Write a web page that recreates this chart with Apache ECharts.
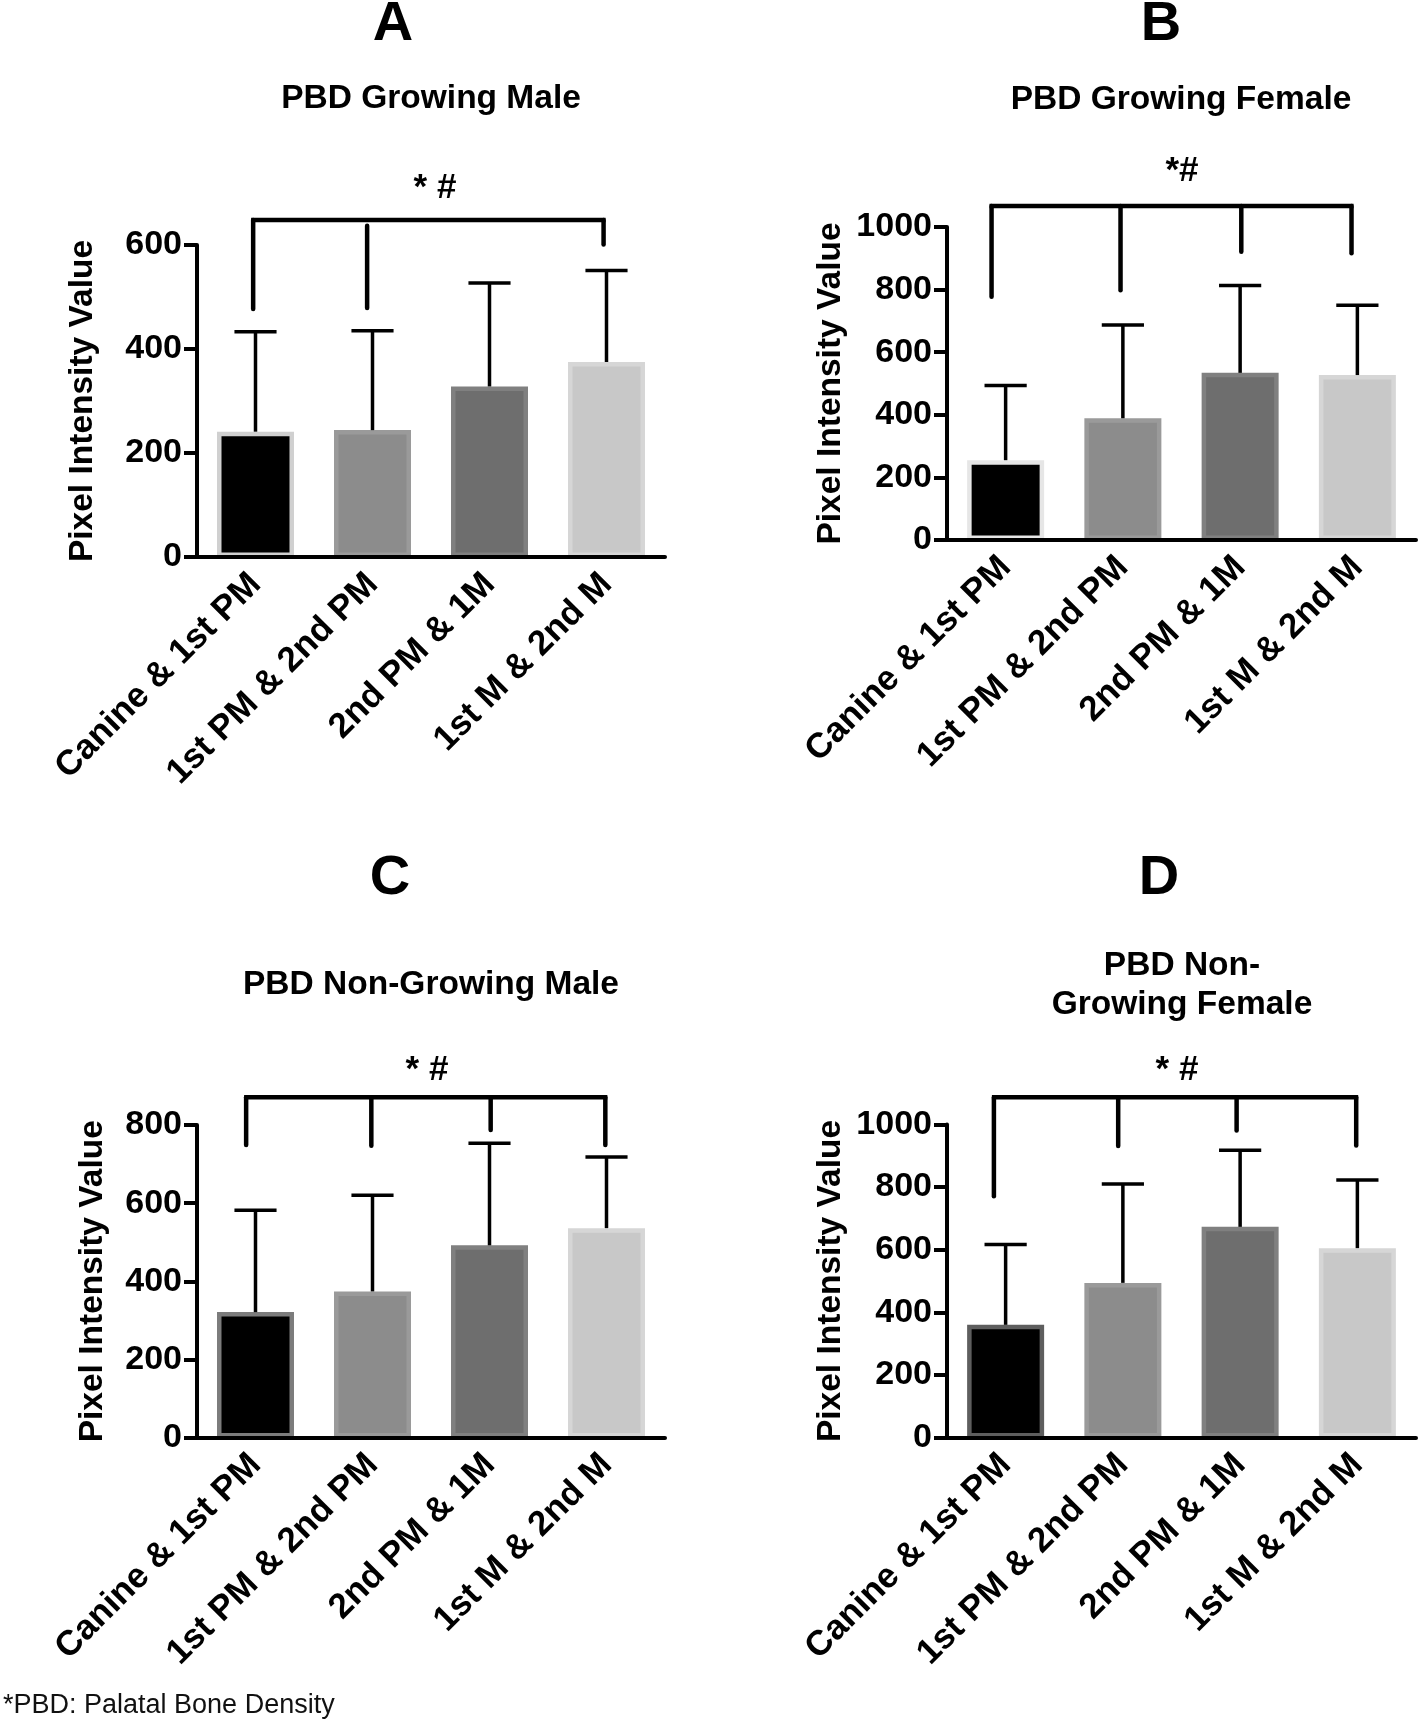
<!DOCTYPE html>
<html><head><meta charset="utf-8">
<script src="https://cdn.jsdelivr.net/npm/echarts@6/dist/echarts.min.js"></script>
<style>html,body{margin:0;padding:0;background:#fff}#c{width:1418px;height:1726px}</style>
</head><body><div id="c"></div>
<script>
// ---------- data ----------
const categories = ['Canine & 1st PM', '1st PM & 2nd PM', '2nd PM & 1M', '1st M & 2nd M'];
const yTicksA = [0, 200, 400, 600];
const yTicksB = [0, 200, 400, 600, 800, 1000];
const yTicksC = [0, 200, 400, 600, 800];
const yTicksD = [0, 200, 400, 600, 800, 1000];

const meanA = [241, 244, 328, 375];
const sdA   = [192, 191, 199, 176];
const meanB = [255, 389, 534, 527];
const sdB   = [239, 298, 279, 223];
const meanC = [321, 374, 492, 536];
const sdC   = [261, 246, 261, 182];
const meanD = [360, 494, 673, 605];
const sdD   = [257, 316, 245, 218];

// significance brackets (x in category units, y in data units)
const bracketLevelA = 648, bracketXA = [-0.02, 0.954, 2.975], bracketFromA = [648, 637, 648], bracketToA = [477, 479, 601];
const bracketLevelB = 1067, bracketXB = [-0.12, 0.98, 2.01, 2.95], bracketFromB = [1067, 1067, 1067, 1067], bracketToB = [777, 798, 921, 916];
const bracketLevelC = 871, bracketXC = [-0.08, 0.99, 2.01, 2.99], bracketFromC = [871, 871, 871, 871], bracketToC = [749, 747, 787, 749];
const bracketLevelD = 1087, bracketXD = [-0.10, 0.96, 1.97, 2.99], bracketFromD = [1087, 1087, 1087, 1087], bracketToD = [771, 931, 981, 933];

const panelTitles = ['PBD Growing Male', 'PBD Growing Female', 'PBD Non-Growing Male', 'PBD Non-\nGrowing Female'];
const panelLetters = ['A', 'B', 'C', 'D'];
const sigLabels = ['* #', '*#', '* #', '* #'];
const yName = 'Pixel Intensity Value';
const footnote = '*PBD: Palatal Bone Density';

// ---------- styles / layout ----------
const FONT = "'Liberation Sans', Arial, Helvetica, sans-serif";
const fills = ['#000000', '#8c8c8c', '#6e6e6e', '#c8c8c8'];
const bordersByPanel = [
  ['#d0d0d0', '#9a9a9a', '#808080', '#d6d6d6'],
  ['#e6e6e6', '#9a9a9a', '#808080', '#d6d6d6'],
  ['#7c7c7c', '#9a9a9a', '#808080', '#d6d6d6'],
  ['#5e5e5e', '#9a9a9a', '#808080', '#d6d6d6']
];
const panels = [
  {left: 197, top: 245, width: 468, height: 312, ticks: yTicksA, mean: meanA, sd: sdA,
   bl: bracketLevelA, bx: bracketXA, bf: bracketFromA, bt: bracketToA, nameGap: 97,
   letter: [393, 25], title: [431, 99], sig: [435, 188]},
  {left: 947, top: 227, width: 469, height: 313, ticks: yTicksB, mean: meanB, sd: sdB,
   bl: bracketLevelB, bx: bracketXB, bf: bracketFromB, bt: bracketToB, nameGap: 99,
   letter: [1161, 25], title: [1181, 100], sig: [1182, 171]},
  {left: 197, top: 1125, width: 468, height: 312.5, ticks: yTicksC, mean: meanC, sd: sdC,
   bl: bracketLevelC, bx: bracketXC, bf: bracketFromC, bt: bracketToC, nameGap: 87,
   letter: [390, 879], title: [431, 985], sig: [427, 1070]},
  {left: 947, top: 1124.5, width: 469, height: 313, ticks: yTicksD, mean: meanD, sd: sdD,
   bl: bracketLevelD, bx: bracketXD, bf: bracketFromD, bt: bracketToD, nameGap: 99,
   letter: [1159, 879], title: [1182, 985], sig: [1177, 1070]}
];
const TITLE_SIZE = 33.5;

const grid = [], xAxis = [], yAxis = [], series = [], graphic = [];

panels.forEach((p, k) => {
  grid.push({left: p.left, top: p.top, width: p.width, height: p.height, containLabel: false});
  xAxis.push({
    type: 'category', gridIndex: k, data: categories, z: 10,
    axisLine: {onZero: false, lineStyle: {color: '#000', width: 4}},
    axisTick: {alignWithLabel: true, length: 13, lineStyle: {color: '#000', width: 4}},
    axisLabel: {rotate: 45, interval: 0, margin: 22, color: '#000', fontFamily: FONT, fontWeight: 'bold', fontSize: 35}
  });
  xAxis.push({type: 'value', gridIndex: k, min: -0.5, max: 3.5, show: false});
  const ymax = p.ticks[p.ticks.length - 1];
  yAxis.push({
    type: 'value', gridIndex: k, min: p.ticks[0], max: ymax, interval: p.ticks[1] - p.ticks[0], z: 10,
    name: yName, nameLocation: 'middle', nameGap: p.nameGap,
    nameTextStyle: {color: '#000', fontFamily: FONT, fontWeight: 'bold', fontSize: 33.5},
    axisLine: {show: true, onZero: false, lineStyle: {color: '#000', width: 4}},
    axisTick: {show: true, length: 13, lineStyle: {color: '#000', width: 4}},
    axisLabel: {margin: 15, color: '#000', fontFamily: FONT, fontWeight: 'bold', fontSize: 34,
      formatter: v => String(v)},
    splitLine: {show: false}
  });
  const bords = bordersByPanel[k];
  series.push({
    type: 'bar', xAxisIndex: 2 * k, yAxisIndex: k, barWidth: 77, z: 2,
    data: p.mean.map((v, i) => ({value: v, itemStyle: {color: fills[i], borderColor: bords[i], borderWidth: 4.5}})),
    animation: false
  });
  series.push({
    type: 'custom', xAxisIndex: 2 * k, yAxisIndex: k, z: 3, clip: false, animation: false,
    data: p.mean.map((v, i) => [i, v, p.sd[i]]),
    renderItem: function (params, api) {
      const i = api.value(0), m = api.value(1), s = api.value(2);
      const p0 = api.coord([i, m]), p1 = api.coord([i, m + s]);
      const hw = api.size([1, 0])[0] * 0.18;
      const st = {stroke: '#000', lineWidth: 3.5};
      return {type: 'group', children: [
        {type: 'line', shape: {x1: p0[0], y1: p0[1], x2: p1[0], y2: p1[1]}, style: st},
        {type: 'line', shape: {x1: p1[0] - hw, y1: p1[1], x2: p1[0] + hw, y2: p1[1]}, style: st}
      ]};
    }
  });
  const n = p.bx.length;
  series.push({
    type: 'custom', xAxisIndex: 2 * k + 1, yAxisIndex: k, z: 3, clip: false, animation: false,
    data: p.bx.map((x, i) => [x, p.bf[i], p.bt[i]]),
    renderItem: function (params, api) {
      const x = api.value(0), f = api.value(1), t = api.value(2);
      const st = {stroke: '#000', lineWidth: 4.5, lineCap: 'round', fill: null};
      const idx = params.dataIndex;
      const a = api.coord([x, t]);
      if (idx === 0 || idx === n - 1) {
        const b = api.coord([x, p.bl]);
        const children = [{type: 'line', shape: {x1: a[0], y1: a[1], x2: b[0], y2: b[1]}, style: st}];
        if (idx === 0) {
          const c = api.coord([p.bx[n - 1], p.bl]);
          children.push({type: 'line', shape: {x1: b[0] - 2, y1: b[1], x2: c[0] + 2, y2: c[1]},
            style: {stroke: '#000', lineWidth: 4.5, lineCap: 'butt'}});
        }
        return {type: 'group', children: children};
      }
      const b = api.coord([x, f]);
      return {type: 'line', shape: {x1: a[0], y1: a[1], x2: b[0], y2: b[1]}, style: st};
    }
  });

  graphic.push({type: 'text', x: p.letter[0], y: p.letter[1],
    style: {text: panelLetters[k], textAlign: 'center', textVerticalAlign: 'middle', fill: '#000', font: 'bold 56px ' + FONT}});
  if (k === 3) {
    const lines = panelTitles[k].split('\n');
    graphic.push({type: 'text', x: p.title[0], y: 966,
      style: {text: lines[0], textAlign: 'center', textVerticalAlign: 'middle', fill: '#000', font: 'bold ' + TITLE_SIZE + 'px ' + FONT}});
    graphic.push({type: 'text', x: p.title[0], y: 1005,
      style: {text: lines[1], textAlign: 'center', textVerticalAlign: 'middle', fill: '#000', font: 'bold ' + TITLE_SIZE + 'px ' + FONT}});
  } else {
    graphic.push({type: 'text', x: p.title[0], y: p.title[1],
      style: {text: panelTitles[k], textAlign: 'center', textVerticalAlign: 'middle', fill: '#000', font: 'bold ' + TITLE_SIZE + 'px ' + FONT}});
  }
  graphic.push({type: 'text', x: p.sig[0], y: p.sig[1],
    style: {text: sigLabels[k], textAlign: 'center', textVerticalAlign: 'middle', fill: '#000', font: 'bold 35px ' + FONT}});
});

graphic.push({type: 'text', x: 3, y: 1706,
  style: {text: footnote, textAlign: 'left', textVerticalAlign: 'middle', fill: '#111', font: '27px ' + FONT}});

const chart = echarts.init(document.getElementById('c'), null, {renderer: 'canvas'});
chart.setOption({backgroundColor: '#fff', animation: false, grid, xAxis, yAxis, series, graphic});
</script></body></html>
